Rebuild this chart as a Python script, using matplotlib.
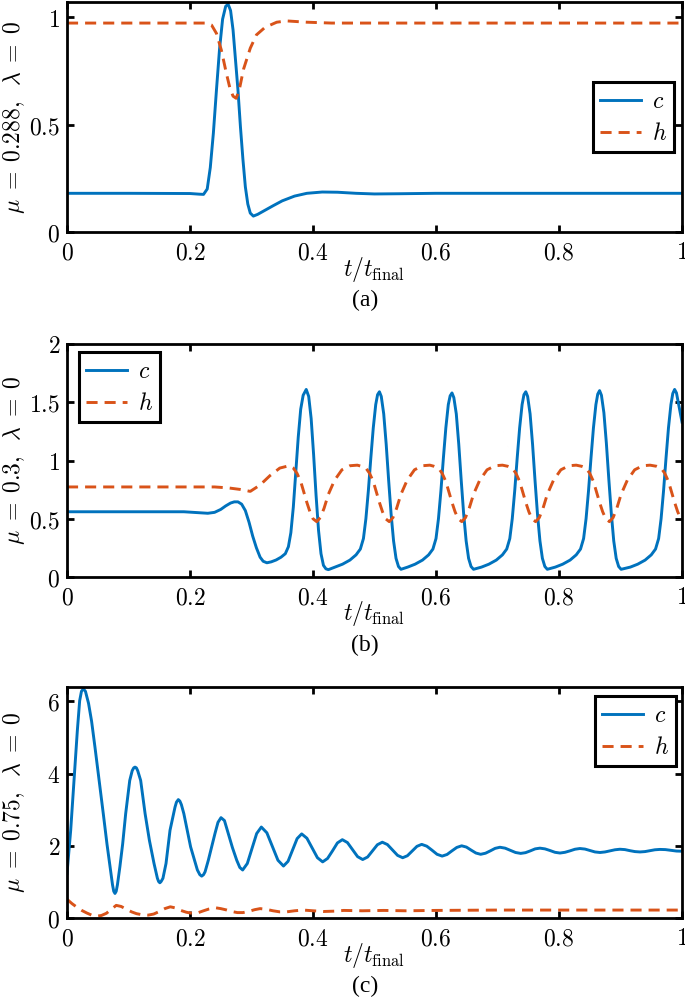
import matplotlib
matplotlib.use("Agg")
import matplotlib.pyplot as plt
from matplotlib.ticker import FuncFormatter

# ---- panel (a): mu = 0.288 ----
t_a_c = [0, 0.10, 0.20, 0.215, 0.222, 0.228, 0.233, 0.238, 0.243, 0.248, 0.253, 0.258, 0.262,
         0.266, 0.270, 0.274, 0.278, 0.282, 0.286, 0.290, 0.294, 0.298, 0.303, 0.310, 0.320,
         0.335, 0.350, 0.370, 0.390, 0.415, 0.440, 0.470, 0.500, 0.540, 0.600, 0.800, 1.0]
c_a = [0.18, 0.18, 0.179, 0.176, 0.175, 0.20, 0.30, 0.46, 0.66, 0.85, 0.99, 1.05, 1.06,
       1.03, 0.94, 0.80, 0.66, 0.49, 0.34, 0.21, 0.13, 0.088, 0.074, 0.082, 0.098,
       0.122, 0.145, 0.167, 0.180, 0.186, 0.185, 0.180, 0.177, 0.178, 0.18, 0.18, 0.18]
t_a_h = [0, 0.20, 0.227, 0.235, 0.243, 0.251, 0.259, 0.265, 0.270, 0.275, 0.280, 0.287,
         0.298, 0.308, 0.322, 0.341, 0.357, 0.390, 0.430, 1.0]
h_a = [0.972, 0.972, 0.972, 0.963, 0.924, 0.846, 0.74, 0.668, 0.632, 0.622, 0.66, 0.757,
       0.855, 0.917, 0.952, 0.976, 0.982, 0.976, 0.972, 0.972]

# ---- panel (b): mu = 0.3 ----
t_b_c = [0, 0.19, 0.21, 0.229, 0.24, 0.25, 0.258, 0.266, 0.272, 0.278, 0.284, 0.290, 0.296,
         0.302, 0.308, 0.314, 0.319, 0.325, 0.332, 0.340, 0.348, 0.355, 0.360, 0.364, 0.368,
         0.372, 0.376, 0.380, 0.384, 0.389, 0.393, 0.397, 0.401, 0.405, 0.409, 0.413, 0.417,
         0.421, 0.425,
         0.436, 0.448, 0.460, 0.470, 0.477, 0.482, 0.486, 0.490, 0.494, 0.498, 0.502, 0.505,
         0.508, 0.511, 0.515, 0.519, 0.523, 0.527, 0.531, 0.535, 0.539, 0.543,
         0.554, 0.566, 0.578, 0.588, 0.595, 0.600, 0.604, 0.608, 0.612, 0.616, 0.620, 0.623,
         0.626, 0.629, 0.633, 0.637, 0.641, 0.645, 0.649, 0.653, 0.657, 0.661,
         0.674, 0.686, 0.698, 0.708, 0.715, 0.720, 0.724, 0.728, 0.732, 0.736, 0.740, 0.743,
         0.746, 0.749, 0.753, 0.757, 0.761, 0.765, 0.769, 0.773, 0.777, 0.781,
         0.794, 0.806, 0.818, 0.828, 0.835, 0.840, 0.844, 0.848, 0.852, 0.856, 0.860, 0.863,
         0.866, 0.869, 0.873, 0.877, 0.881, 0.885, 0.889, 0.893, 0.897, 0.901,
         0.916, 0.928, 0.940, 0.950, 0.957, 0.962, 0.966, 0.970, 0.974, 0.978, 0.982, 0.985,
         0.988, 0.991, 0.995, 1.0]
c_b = [0.56, 0.56, 0.553, 0.547, 0.555, 0.58, 0.61, 0.635, 0.645, 0.645, 0.625, 0.57, 0.47,
       0.35, 0.25, 0.17, 0.135, 0.122, 0.13, 0.146, 0.17, 0.20, 0.26, 0.38, 0.60,
       0.90, 1.20, 1.44, 1.56, 1.61, 1.55, 1.36, 1.05, 0.70, 0.40, 0.20, 0.10,
       0.07, 0.063,
       0.085, 0.11, 0.145, 0.19, 0.24, 0.33, 0.50, 0.74, 1.02, 1.28, 1.48, 1.565,
       1.59, 1.55, 1.40, 1.14, 0.83, 0.54, 0.31, 0.16, 0.09, 0.066,
       0.085, 0.11, 0.145, 0.19, 0.24, 0.33, 0.50, 0.74, 1.02, 1.28, 1.48, 1.555,
       1.58, 1.54, 1.40, 1.14, 0.83, 0.54, 0.31, 0.16, 0.09, 0.066,
       0.085, 0.11, 0.145, 0.19, 0.24, 0.33, 0.50, 0.74, 1.02, 1.28, 1.48, 1.565,
       1.59, 1.55, 1.40, 1.14, 0.83, 0.54, 0.31, 0.16, 0.09, 0.066,
       0.085, 0.11, 0.145, 0.19, 0.24, 0.33, 0.50, 0.74, 1.02, 1.28, 1.48, 1.57,
       1.60, 1.56, 1.41, 1.15, 0.84, 0.55, 0.31, 0.16, 0.09, 0.066,
       0.085, 0.11, 0.145, 0.19, 0.24, 0.33, 0.50, 0.74, 1.02, 1.28, 1.48, 1.575,
       1.61, 1.58, 1.47, 1.33]
t_b_h = [0, 0.24, 0.262, 0.281, 0.298, 0.314, 0.330, 0.346, 0.361,
         0.368, 0.374, 0.380, 0.385, 0.390, 0.395, 0.400, 0.406, 0.412, 0.418, 0.425, 0.435,
         0.447, 0.460, 0.472,
         0.479, 0.486, 0.492, 0.498, 0.503, 0.508, 0.513, 0.518, 0.524, 0.530, 0.536, 0.543,
         0.553, 0.565, 0.578, 0.590,
         0.597, 0.604, 0.610, 0.616, 0.621, 0.626, 0.631, 0.636, 0.642, 0.648, 0.654, 0.661,
         0.671, 0.683, 0.696, 0.708,
         0.717, 0.724, 0.730, 0.736, 0.741, 0.746, 0.751, 0.756, 0.762, 0.768, 0.774, 0.781,
         0.791, 0.803, 0.816, 0.828,
         0.837, 0.844, 0.850, 0.856, 0.861, 0.866, 0.871, 0.876, 0.882, 0.888, 0.894, 0.901,
         0.911, 0.923, 0.936, 0.948,
         0.959, 0.966, 0.972, 0.978, 0.983, 0.988, 0.993, 0.998, 1.0]
h_b = [0.773, 0.773, 0.765, 0.752, 0.735, 0.79, 0.87, 0.935, 0.955,
       0.935, 0.89, 0.82, 0.73, 0.64, 0.56, 0.50, 0.475, 0.51, 0.59, 0.71, 0.83,
       0.92, 0.955, 0.96,
       0.95, 0.935, 0.89, 0.82, 0.73, 0.64, 0.56, 0.50, 0.475, 0.51, 0.59, 0.71,
       0.83, 0.92, 0.955, 0.96,
       0.95, 0.935, 0.89, 0.82, 0.73, 0.64, 0.56, 0.50, 0.475, 0.51, 0.59, 0.71,
       0.83, 0.92, 0.955, 0.96,
       0.95, 0.935, 0.89, 0.82, 0.73, 0.64, 0.56, 0.50, 0.475, 0.51, 0.59, 0.71,
       0.83, 0.92, 0.955, 0.96,
       0.95, 0.935, 0.89, 0.82, 0.73, 0.64, 0.56, 0.50, 0.475, 0.51, 0.59, 0.71,
       0.83, 0.92, 0.955, 0.96,
       0.95, 0.935, 0.89, 0.82, 0.73, 0.64, 0.56, 0.50, 0.49]

# ---- panel (c): mu = 0.75 ----
t_c_c = [0, 0.006, 0.0114, 0.0168, 0.0206, 0.0235, 0.0265, 0.030, 0.035, 0.040, 0.0455, 0.052,
         0.059, 0.065, 0.070, 0.074, 0.076, 0.078, 0.080, 0.082, 0.086, 0.0905, 0.0954, 0.102,
         0.106, 0.1085, 0.1106, 0.1128, 0.115, 0.1198, 0.127, 0.134, 0.1415, 0.147, 0.149,
         0.151, 0.153, 0.156, 0.161, 0.1675, 0.1756, 0.178, 0.181, 0.1835, 0.186, 0.190,
         0.201, 0.212, 0.216, 0.219, 0.222, 0.2245, 0.2298, 0.2406, 0.2455, 0.2504, 0.256,
         0.2623, 0.269, 0.276, 0.281, 0.2856,
         0.2932, 0.3008, 0.3084, 0.316, 0.325, 0.334, 0.343, 0.352, 0.3594, 0.3668, 0.3742,
         0.3816, 0.3901, 0.3987, 0.4072, 0.4157, 0.4237, 0.4317, 0.4397, 0.4477, 0.456, 0.4643,
         0.4725, 0.4808, 0.4888, 0.4968, 0.5047, 0.5127, 0.5210, 0.5293, 0.5375, 0.5458,
         0.5535, 0.5613, 0.569, 0.5767, 0.585, 0.5934, 0.6017, 0.610, 0.618, 0.6259, 0.6338,
         0.6417, 0.6494, 0.6572, 0.6649, 0.6726, 0.6805, 0.6883, 0.6962, 0.704, 0.7124, 0.7209,
         0.7293, 0.7377, 0.7455, 0.7534, 0.7612, 0.769, 0.7772, 0.7853, 0.7935, 0.8016, 0.8097,
         0.8178, 0.8259, 0.834, 0.8422, 0.8504, 0.8585, 0.8667, 0.8748, 0.8829, 0.8909, 0.899,
         0.9072, 0.9154, 0.9235, 0.9317, 0.9398, 0.9479, 0.9559, 0.964, 0.973, 0.982, 0.991, 1.0]
c_c = [1.23, 2.43, 3.81, 5.19, 6.02, 6.28, 6.35, 6.28, 5.95, 5.45, 4.73, 3.85,
       2.89, 2.05, 1.42, 0.92, 0.74, 0.68, 0.74, 0.92, 1.42, 2.05, 2.89, 3.81,
       4.08, 4.16, 4.18, 4.16, 4.08, 3.81, 2.89, 2.15, 1.51, 1.10, 1.01,
       0.975, 1.01, 1.10, 1.51, 2.43, 3.07, 3.21, 3.28, 3.24, 3.14, 2.89,
       1.97, 1.33, 1.20, 1.16, 1.20, 1.28, 1.60, 2.34, 2.65, 2.78, 2.70,
       2.34, 1.95, 1.60, 1.40, 1.33,
       1.51, 1.925, 2.34, 2.52, 2.36, 1.98, 1.60, 1.44, 1.57, 1.885, 2.20,
       2.33, 2.21, 1.94, 1.67, 1.555, 1.65, 1.86, 2.08, 2.17, 2.09, 1.895,
       1.70, 1.62, 1.69, 1.86, 2.03, 2.10, 2.035, 1.885, 1.735, 1.67,
       1.725, 1.855, 1.985, 2.04, 1.99, 1.88, 1.765, 1.715, 1.76, 1.86, 1.955,
       2.0, 1.965, 1.88, 1.80, 1.765, 1.795, 1.86, 1.93, 1.96, 1.935, 1.875,
       1.815, 1.79, 1.81, 1.86, 1.915, 1.935, 1.915, 1.87, 1.82, 1.80, 1.82,
       1.86, 1.905, 1.925, 1.91, 1.87, 1.83, 1.815, 1.83, 1.86, 1.89, 1.905,
       1.895, 1.865, 1.84, 1.83, 1.84, 1.865, 1.89, 1.90, 1.895, 1.875, 1.855, 1.85]
t_c_h = [0, 0.008, 0.016, 0.024, 0.032, 0.040, 0.048, 0.056, 0.064, 0.072, 0.080, 0.088,
         0.097, 0.105, 0.113, 0.122, 0.132, 0.141, 0.150, 0.159, 0.168, 0.176, 0.185, 0.194,
         0.203, 0.212, 0.222, 0.231, 0.241, 0.250, 0.260, 0.268, 0.277, 0.286, 0.295, 0.305,
         0.314, 0.324, 0.335, 0.346, 0.357, 0.370, 0.384, 0.400, 0.417, 0.435, 0.450, 0.480,
         0.515, 0.55, 0.6, 0.7, 0.8, 0.9, 1.0]
h_c = [0.52, 0.40, 0.30, 0.21, 0.14, 0.08, 0.05, 0.07, 0.13, 0.24, 0.35, 0.32,
       0.24, 0.17, 0.12, 0.09, 0.08, 0.11, 0.18, 0.26, 0.31, 0.28, 0.21, 0.16,
       0.13, 0.14, 0.20, 0.25, 0.285, 0.26, 0.22, 0.18, 0.15, 0.15, 0.18, 0.23,
       0.26, 0.24, 0.20, 0.17, 0.17, 0.20, 0.22, 0.20, 0.18, 0.19, 0.21, 0.20,
       0.21, 0.20, 0.21, 0.22, 0.22, 0.22, 0.22]

ylabels = [r"$\mu \;=\; 0.288,\;\;\lambda \;=\; 0$", r"$\mu \;=\; 0.3,\;\;\lambda \;=\; 0$",
           r"$\mu \;=\; 0.75,\;\;\lambda \;=\; 0$"]
yticks = [[0, 0.5, 1], [0, 0.5, 1, 1.5, 2], [0, 2, 4, 6]]
ylims = [(0, 1.07), (0, 2), (0, 6.4)]
xticks = [0, 0.2, 0.4, 0.6, 0.8, 1]
tags = ["(a)", "(b)", "(c)"]

for a, b in ((t_a_c, c_a), (t_a_h, h_a), (t_b_c, c_b), (t_b_h, h_b), (t_c_c, c_c), (t_c_h, h_c)):
    assert len(a) == len(b), (len(a), len(b))

plt.rcParams.update({
    "mathtext.fontset": "cm",
    "font.size": 17,
    "axes.linewidth": 2.0,
    "xtick.direction": "in", "ytick.direction": "in",
    "xtick.top": True, "ytick.right": True,
    "xtick.major.size": 5, "ytick.major.size": 5,
    "xtick.major.width": 2.0, "ytick.major.width": 2.0,
    "xtick.major.pad": 6, "ytick.major.pad": 5,
})

BLUE = "#0072BD"
ORANGE = "#D95319"
W, H = 685, 998
fig = plt.figure(figsize=(W / 100, H / 100), dpi=100)

# axes boxes in pixels (left, top, right, bottom), legend upper-left corner in axes coords
boxes = [(67, 2, 682, 232), (67, 344, 682, 577), (67, 687, 682, 918)]
leg_pos = [(0.855, 0.652), (0.0195, 0.966), (0.8585, 0.961)]
series = [((t_a_c, c_a), (t_a_h, h_a)), ((t_b_c, c_b), (t_b_h, h_b)), ((t_c_c, c_c), (t_c_h, h_c))]

fmt = FuncFormatter(lambda v, p: f"${v:g}$")
for i in range(3):
    l, t, r, b = boxes[i]
    ax = fig.add_axes([l / W, 1 - b / H, (r - l) / W, (b - t) / H])
    (tc, cc), (th, hh) = series[i]
    ax.plot(tc, cc, color=BLUE, lw=2.1, label="$c$")
    ax.plot(th, hh, color=ORANGE, lw=2.1, dashes=(3.8, 2.4), label="$h$")
    ax.set_xlim(0, 1)
    ax.set_ylim(*ylims[i])
    ax.set_xticks(xticks)
    ax.set_yticks(yticks[i])
    ax.xaxis.set_major_formatter(fmt)
    ax.yaxis.set_major_formatter(fmt)
    hpx = b - t
    ax.text(0.5, -37 / hpx, r"$t/t_{\mathrm{final}}$", transform=ax.transAxes,
            ha="center", va="center")
    ax.text((14 - l) / (r - l), 0.5, ylabels[i], transform=ax.transAxes, rotation=90,
            ha="center", va="center")
    fig.text(365 / W, 1 - (b + 68) / H, tags[i], family="Liberation Serif", fontsize=17,
             ha="center", va="center")
    leg = ax.legend(loc="upper left", bbox_to_anchor=leg_pos[i], borderaxespad=0,
                    fancybox=False, edgecolor="k", framealpha=1, borderpad=0.3,
                    handlelength=1.75, handletextpad=0.45, labelspacing=0.35)
    leg.get_frame().set_linewidth(2.2)

fig.savefig("out.png", dpi=100)
